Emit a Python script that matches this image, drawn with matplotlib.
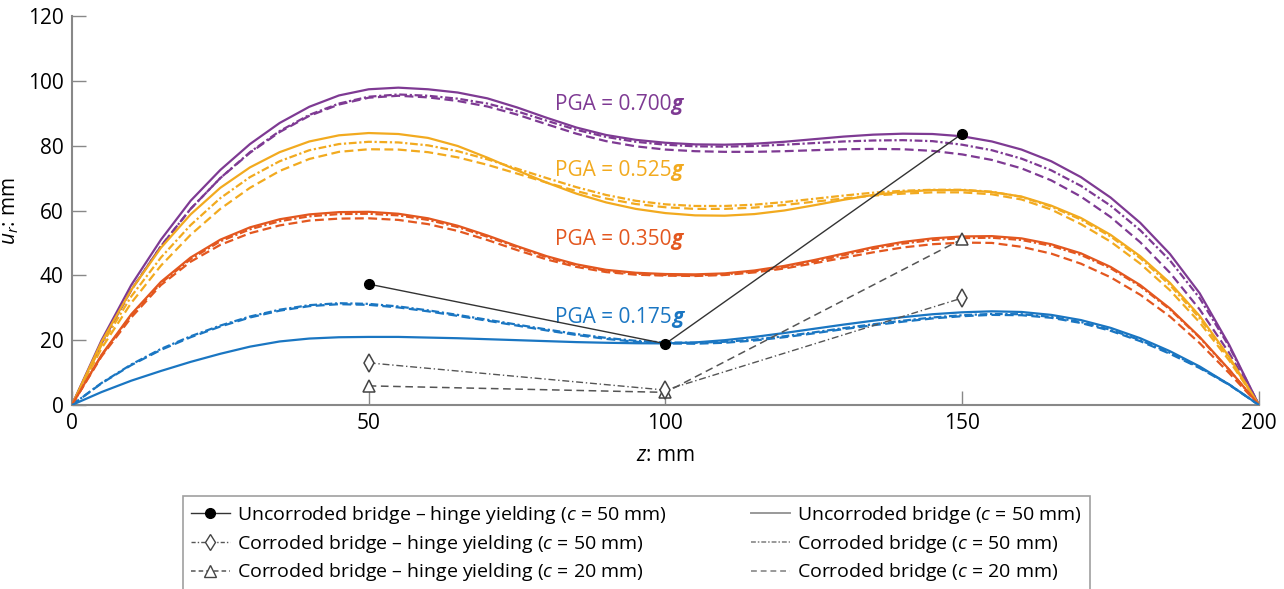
import matplotlib
matplotlib.use("Agg")
import matplotlib.pyplot as plt
from matplotlib.lines import Line2D

# distance along the pier, z (mm)
z = [0, 5, 10, 15, 20, 25, 30, 35, 40, 45, 50, 55, 60, 65, 70, 75, 80, 85, 90, 95,
     100, 105, 110, 115, 120, 125, 130, 135, 140, 145, 150, 155, 160, 165, 170, 175,
     180, 185, 190, 195, 200]

# PGA = 0.700g
p_unc = [0, 20, 37, 51, 63, 72.5, 80.5, 87, 92, 95.5, 97.4, 97.9, 97.4, 96.4, 94.6,
         91.8, 88.6, 85.6, 83.3, 81.8, 80.9, 80.4, 80.3, 80.6, 81.2, 82, 82.8, 83.4,
         83.7, 83.6, 82.9, 81.3, 78.8, 75.2, 70.3, 64, 56.2, 46.6, 34.5, 18.5, 0]
p_c50 = [0, 19, 35.5, 49, 60.5, 70, 78, 84.5, 89.5, 93, 95.1, 95.8, 95.4, 94.5, 93,
         90.6, 87.7, 84.9, 82.7, 81.2, 80.3, 79.8, 79.7, 79.9, 80.3, 80.8, 81.3, 81.6,
         81.7, 81.4, 80.3, 78.6, 76, 72.4, 67.6, 61.5, 53.9, 44.6, 33, 18, 0]
p_c20 = [0, 19, 35.5, 49, 60.5, 70, 77.8, 84.2, 89.2, 92.7, 94.8, 95.4, 94.9, 93.8,
         92.1, 89.6, 86.6, 83.7, 81.4, 79.8, 78.8, 78.3, 78.1, 78.1, 78.3, 78.6, 78.9,
         79, 78.9, 78.4, 77.3, 75.6, 73, 69.3, 64.3, 58, 50.2, 40.8, 29.5, 16, 0]

# PGA = 0.525g
o_unc = [0, 19.5, 35.5, 48.5, 58.8, 67, 73.3, 78, 81.3, 83.2, 83.9, 83.6, 82.4, 79.9,
         76.3, 72.4, 68.6, 65.2, 62.5, 60.5, 59.2, 58.5, 58.4, 58.9, 60, 61.6, 63.3,
         64.8, 65.8, 66.3, 66.3, 65.7, 64.3, 61.5, 57.7, 52.5, 45.9, 37.7, 27.5, 14.8, 0]
o_c50 = [0, 18.5, 33.5, 45.5, 55.5, 63.8, 70.3, 75.2, 78.6, 80.5, 81.2, 81, 80.1, 78.3,
         75.8, 72.9, 70, 67.2, 64.8, 63, 61.9, 61.4, 61.4, 61.8, 62.6, 63.6, 64.6, 65.5,
         66.1, 66.4, 66.4, 65.8, 64.2, 61.2, 57.2, 52, 45.3, 37, 26.8, 14.3, 0]
o_c20 = [0, 17.5, 31.5, 43, 52.5, 60.5, 67, 72.2, 75.9, 78.1, 78.9, 78.8, 78, 76.4,
         74.1, 71.4, 68.6, 66, 63.7, 62, 61, 60.5, 60.5, 60.9, 61.7, 62.7, 63.7, 64.6,
         65.2, 65.6, 65.6, 65, 63.4, 60.3, 55.8, 50.4, 43.6, 35.4, 25.5, 13.7, 0]

# PGA = 0.350g
r_unc = [0, 15.5, 28, 38, 45.5, 51, 54.8, 57.3, 58.8, 59.5, 59.6, 59, 57.6, 55.3, 52.3,
         49, 45.9, 43.4, 41.7, 40.8, 40.4, 40.3, 40.6, 41.5, 42.9, 44.7, 46.7, 48.7,
         50.3, 51.4, 52, 52.1, 51.4, 49.6, 46.8, 42.6, 37, 29.8, 21, 10.9, 0]
r_c50 = [0, 15.3, 27.7, 37.6, 45, 50.5, 54.2, 56.7, 58.2, 58.9, 59, 58.5, 57.1, 54.9,
         51.9, 48.7, 45.6, 43.1, 41.4, 40.5, 40.1, 40, 40.3, 41.2, 42.5, 44.2, 46.2, 48.2,
         49.8, 50.9, 51.5, 51.6, 50.9, 49.1, 46.3, 42.2, 36.6, 29.5, 20.8, 10.8, 0]
r_c20 = [0, 15, 27, 37, 44.2, 49.4, 53, 55.4, 56.9, 57.5, 57.6, 57.1, 55.8, 53.7, 50.9,
         47.8, 44.9, 42.6, 41, 40.2, 39.9, 39.8, 40.1, 40.9, 42.1, 43.7, 45.4, 47.1,
         48.6, 49.6, 50.1, 50, 48.8, 46.7, 43.6, 39.4, 34, 27.3, 19.1, 9.8, 0]

# PGA = 0.175g
b_unc = [0, 4, 7.5, 10.5, 13.3, 15.8, 18, 19.6, 20.5, 20.9, 21, 21, 20.8, 20.6, 20.3,
         20, 19.7, 19.4, 19.2, 19.05, 19, 19.3, 20, 21, 22.2, 23.5, 24.8, 26, 27.1, 28,
         28.6, 28.9, 28.7, 27.8, 26.2, 23.8, 20.6, 16.6, 11.9, 6.3, 0]
b_c50 = [0, 6.8, 12.5, 17.3, 21.2, 24.5, 27.3, 29.4, 30.8, 31.4, 31.2, 30.4, 29.2, 27.8,
         26.3, 24.8, 23.3, 21.9, 20.7, 19.8, 19.3, 19.2, 19.5, 20.2, 21.2, 22.4, 23.7,
         24.9, 26, 27, 27.7, 28.1, 28, 27.2, 25.6, 23.2, 20, 16.1, 11.6, 6.3, 0]
b_c20 = [0, 6.7, 12.3, 17, 20.9, 24.2, 27, 29.1, 30.5, 31.1, 30.9, 30.1, 28.9, 27.5, 26,
         24.5, 23, 21.6, 20.4, 19.5, 19, 18.9, 19.2, 19.9, 20.9, 22.1, 23.4, 24.6, 25.7,
         26.7, 27.4, 27.8, 27.7, 26.9, 25.3, 22.9, 19.7, 15.8, 11.4, 6.2, 0]

# hinge yielding points
hinge_z = [50, 100, 150]
hinge_unc = [37.3, 18.9, 83.7]
hinge_c50 = [13, 4.6, 33]
hinge_c20 = [5.9, 3.9, 51.2]

pga_labels = ["0.700", "0.525", "0.350", "0.175"]
pga_colors = ["#7E3A93", "#F2AA1F", "#E3571F", "#1A76C2"]
pga_text_y = [92.6, 72.2, 51.2, 27.0]

plt.rcParams["font.family"] = ["Open Sans", "DejaVu Sans"]
plt.rcParams["mathtext.fontset"] = "custom"
plt.rcParams["mathtext.rm"] = "Open Sans"
plt.rcParams["mathtext.it"] = "Open Sans:italic"

DASHDOT = (3.5, 1.2, 1.0, 1.2)
DASHED = (4, 2)

fig = plt.figure(figsize=(12.84, 5.89), dpi=100)
ax = fig.add_axes([0.056, 0.3124, 0.9245, 0.6604])

groups = [(p_unc, p_c50, p_c20), (o_unc, o_c50, o_c20),
          (r_unc, r_c50, r_c20), (b_unc, b_c50, b_c20)]
for (u, c50, c20), col in zip(groups, pga_colors):
    ax.plot(z, c20, color=col, lw=1.6, dashes=DASHED, zorder=2)
    ax.plot(z, c50, color=col, lw=1.6, dashes=DASHDOT, zorder=2)
    ax.plot(z, u, color=col, lw=1.6, zorder=3)

# hinge yielding lines
ax.plot(hinge_z, hinge_c20, color="#555555", lw=1.1, dashes=(5, 3), marker="^",
        ms=9, mfc="white", mec="#444444", mew=1.1, zorder=4)
ax.plot(hinge_z, hinge_c50, color="#555555", lw=1.0, dashes=(5, 2, 1, 2), marker="d",
        ms=9, mfc="white", mec="#444444", mew=1.1, zorder=4)
ax.plot(hinge_z, hinge_unc, color="#333333", lw=1.0, marker="o", ms=7,
        mfc="black", mec="black", zorder=5)

# PGA labels, the g in bold italic
for lab, col, ty in zip(pga_labels, pga_colors, pga_text_y):
    t = ax.text(81.4, ty, "PGA = " + lab, color=col, fontsize=15, va="center", ha="left")
    ax.annotate("g", xy=(1, 0), xycoords=t, va="bottom", ha="left", color=col,
                fontsize=15, fontweight="bold", fontstyle="italic")

ax.set_xlim(0, 200)
ax.set_ylim(0, 120)
ax.set_xticks([0, 50, 100, 150, 200])
ax.set_yticks([0, 20, 40, 60, 80, 100, 120])
ax.tick_params(direction="in", length=10, width=1, color="#888888",
               labelsize=15, pad=6)
for side in ["top", "right"]:
    ax.spines[side].set_visible(False)
for side in ["left", "bottom"]:
    ax.spines[side].set_color("#888888")
    ax.spines[side].set_linewidth(1.5)

ax.set_xlabel(r"$z$: mm", fontsize=15, labelpad=8)
ax.set_ylabel(r"$u_r$: mm", fontsize=15)
ax.yaxis.set_label_coords(-0.043, 0.5)

# legend
handles = [
    Line2D([], [], color="#333333", lw=1.0, marker="o", ms=7, mfc="black", mec="black"),
    Line2D([], [], color="#555555", lw=1.0, dashes=(3, 1.5, 1, 1.5), marker="d", ms=8,
           mfc="white", mec="#444444"),
    Line2D([], [], color="#555555", lw=1.1, dashes=(3, 2), marker="^", ms=8,
           mfc="white", mec="#444444"),
    Line2D([], [], color="#999999", lw=1.4),
    Line2D([], [], color="#999999", lw=1.4, dashes=(2.5, 1, 0.8, 1)),
    Line2D([], [], color="#999999", lw=1.4, dashes=(3, 2)),
]
labels = [
    r"Uncorroded bridge – hinge yielding ($c$ = 50 mm)",
    r"Corroded bridge – hinge yielding ($c$ = 50 mm)",
    r"Corroded bridge – hinge yielding ($c$ = 20 mm)",
    r"Uncorroded bridge ($c$ = 50 mm)",
    r"Corroded bridge ($c$ = 50 mm)",
    r"Corroded bridge ($c$ = 20 mm)",
]
leg = fig.legend(handles, labels, loc="upper left", bbox_to_anchor=(0.1425, 0.158),
                 ncol=2, fontsize=14, frameon=True, fancybox=False, edgecolor="#888888",
                 handlelength=2.0, handletextpad=0.4, columnspacing=4.3, labelspacing=0.35,
                 borderpad=0.4, borderaxespad=0)
leg.get_frame().set_linewidth(1.2)

fig.savefig("out.png", dpi=100)
